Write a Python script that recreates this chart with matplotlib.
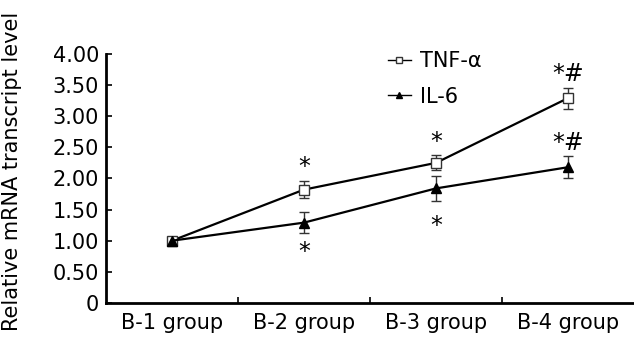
import matplotlib
matplotlib.use("Agg")
import matplotlib.pyplot as plt
import numpy as np

plt.rcParams['font.family'] = ['DejaVu Sans']

groups = ["B-1 group", "B-2 group", "B-3 group", "B-4 group"]
tnf = [1.00, 1.82, 2.25, 3.29]
tnf_err = [0.03, 0.14, 0.12, 0.17]
il6 = [1.00, 1.29, 1.84, 2.18]
il6_err = [0.03, 0.17, 0.20, 0.18]
tnf_marks = ["", "*", "*", "*#"]
il6_marks = ["", "*", "*", "*#"]
yticks = [0, 0.5, 1.0, 1.5, 2.0, 2.5, 3.0, 3.5, 4.0]
ytick_labels = ["0", "0.50", "1.00", "1.50", "2.00", "2.50", "3.00", "3.50", "4.00"]

fig = plt.figure(figsize=(6.34, 3.37), dpi=100)
ax = fig.add_axes([0.167, 0.101, 0.833, 0.739])
x = np.arange(len(groups))

ax.errorbar(x, tnf, yerr=tnf_err, fmt='none', ecolor='#333333', elinewidth=1.0,
            capsize=3.5, zorder=2)
ax.errorbar(x, il6, yerr=il6_err, fmt='none', ecolor='#333333', elinewidth=1.0,
            capsize=3.5, zorder=2)
ax.plot(x, tnf, color='black', lw=1.6, marker='s', ms=7, mfc='white',
        mec='#333333', mew=1.0, label='TNF-\u03b1', zorder=3)
ax.plot(x, il6, color='black', lw=1.6, marker='^', ms=7, mfc='black',
        mec='black', label='IL-6', zorder=4)

fs = 17
def mark(txt, xi, yi, dy):
    ax.annotate(txt, (xi, yi), xytext=(0, dy), textcoords='offset pixels',
                ha='center', va='center_baseline', fontsize=fs)

for i in range(len(groups)):
    if tnf_marks[i]:
        mark(tnf_marks[i], x[i], tnf[i] + tnf_err[i], 16)
for i in range(len(groups)):
    if il6_marks[i]:
        if i == 3:
            mark(il6_marks[i], x[i], il6[i] + il6_err[i], 16)
        elif i == 2:
            mark(il6_marks[i], x[i], il6[i] - il6_err[i], -23)
        else:
            mark(il6_marks[i], x[i], il6[i] - il6_err[i], -16)

ax.set_xlim(-0.5, 3.5)
ax.set_ylim(0, 4.0)
ax.set_yticks(yticks)
ax.set_yticklabels(ytick_labels, fontsize=15)
ax.set_xticks(x)
ax.set_xticklabels(groups, fontsize=15)
ax.tick_params(axis='x', length=0, pad=7)
ax.set_xticks(np.arange(0.5, len(groups) - 0.5, 1.0), minor=True)
ax.tick_params(axis='x', which='minor', direction='in', length=4, width=1.2)
ax.tick_params(axis='y', direction='in', length=4, width=1.2, pad=5)
for s in ['top', 'right']:
    ax.spines[s].set_visible(False)
for s in ['left', 'bottom']:
    ax.spines[s].set_linewidth(2.0)
ax.set_ylabel("Relative mRNA transcript level", fontsize=15)
ax.yaxis.set_label_coords(-0.158, 0.53)

leg = ax.legend(loc='upper left', bbox_to_anchor=(0.534, 1.012), frameon=False,
                fontsize=15, handlelength=1.1, handletextpad=0.45, labelspacing=0.75,
                borderpad=0, borderaxespad=0)
for h in leg.legend_handles:
    h.set_markersize(5)
    h.set_linewidth(1.0)

fig.savefig("out.png", dpi=100)
